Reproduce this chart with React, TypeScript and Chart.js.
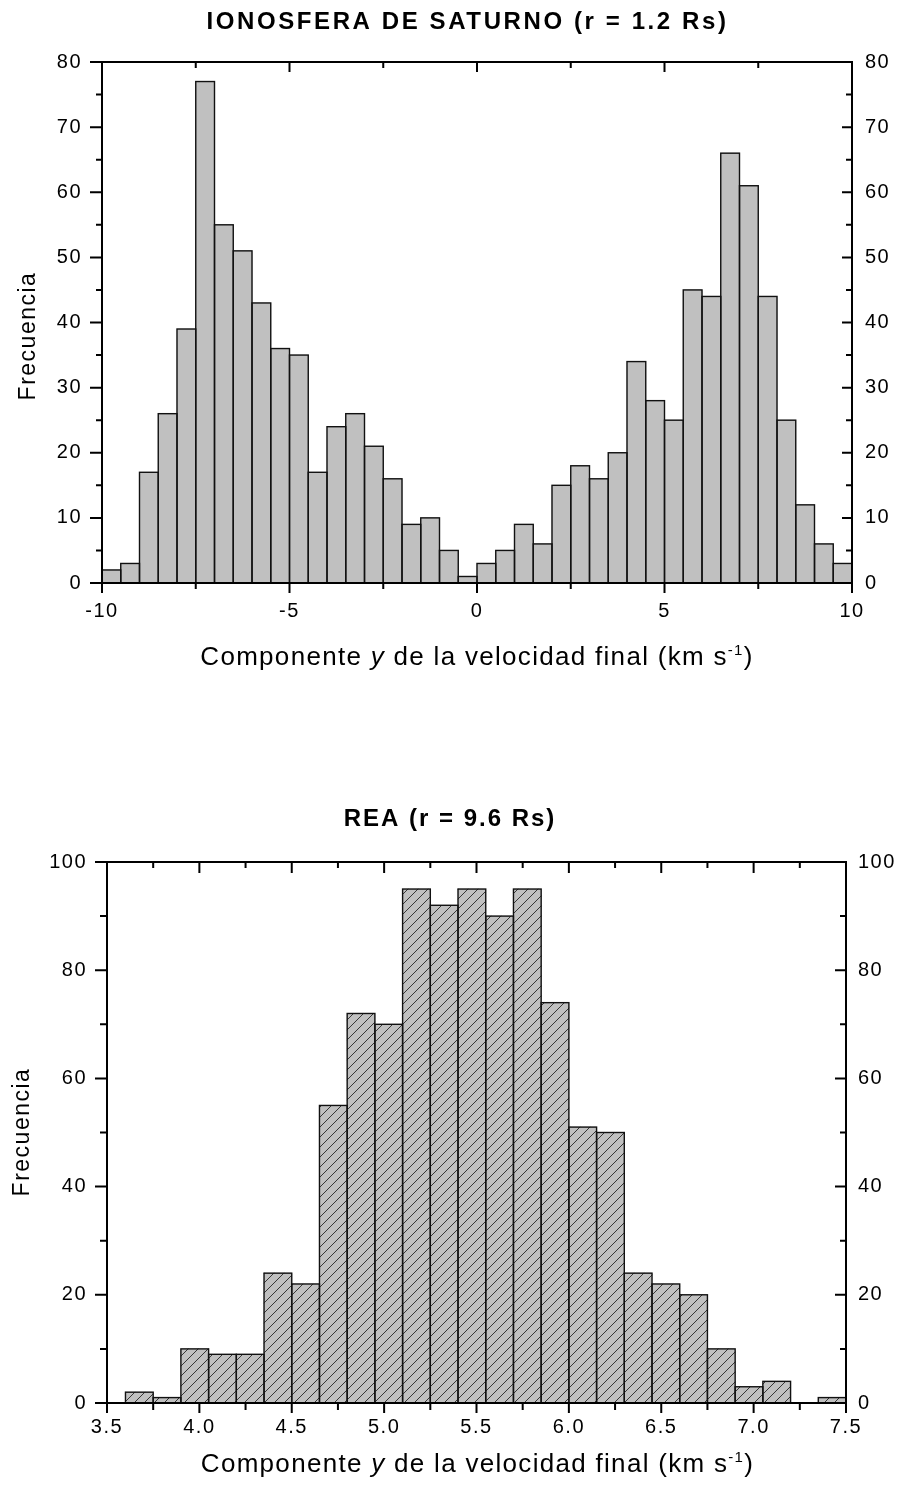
import { useEffect, useRef } from 'react';
import { Chart, registerables } from 'chart.js';

Chart.register(...registerables);

const FONT = "'Liberation Sans', Arial, Helvetica, sans-serif";
const W = 899;
const H = 747;

// ---------- Top chart (Ionosfera) ----------
const topTitle = 'IONOSFERA DE SATURNO (r = 1.2 Rs)';
const topBinCenters = [
  -9.75, -9.25, -8.75, -8.25, -7.75, -7.25, -6.75, -6.25, -5.75, -5.25,
  -4.75, -4.25, -3.75, -3.25, -2.75, -2.25, -1.75, -1.25, -0.75, -0.25,
  0.25, 0.75, 1.25, 1.75, 2.25, 2.75, 3.25, 3.75, 4.25, 4.75,
  5.25, 5.75, 6.25, 6.75, 7.25, 7.75, 8.25, 8.75, 9.25, 9.75,
];
const topCounts = [
  2, 3, 17, 26, 39, 77, 55, 51, 43, 36,
  35, 17, 24, 26, 21, 16, 9, 10, 5, 1,
  3, 5, 9, 6, 15, 18, 16, 20, 34, 28,
  25, 45, 44, 66, 61, 44, 25, 12, 6, 3,
];
const topXMajor = [-10, -5, 0, 5, 10];
const topXMinor = [-7.5, -2.5, 2.5, 7.5];
const topYMajor = [0, 10, 20, 30, 40, 50, 60, 70, 80];
const topYMinor = [5, 15, 25, 35, 45, 55, 65, 75];

// ---------- Bottom chart (REA) ----------
const bottomTitle = 'REA (r = 9.6 Rs)';
const bottomBinCenters = [
  3.675, 3.825, 3.975, 4.125, 4.275, 4.425, 4.575, 4.725, 4.875, 5.025,
  5.175, 5.325, 5.475, 5.625, 5.775, 5.925, 6.075, 6.225, 6.375, 6.525,
  6.675, 6.825, 6.975, 7.125, 7.275, 7.425,
];
const bottomCounts = [
  2, 1, 10, 9, 9, 24, 22, 55, 72, 70,
  95, 92, 95, 90, 95, 74, 51, 50, 24, 22,
  20, 10, 3, 4, 0, 1,
];
const bottomXMajor = [3.5, 4.0, 4.5, 5.0, 5.5, 6.0, 6.5, 7.0, 7.5];
const bottomXMinor = [3.75, 4.25, 4.75, 5.25, 5.75, 6.25, 6.75, 7.25];
const bottomYMajor = [0, 20, 40, 60, 80, 100];
const bottomYMinor = [10, 30, 50, 70, 90];

// ---------- Shared texts ----------
const yTitle = 'Frecuencia';
const xTitleParts = [
  { text: 'Componente ', style: 'normal', sup: false },
  { text: 'y', style: 'italic', sup: false },
  { text: ' de la velocidad final (km s', style: 'normal', sup: false },
  { text: '-1', style: 'normal', sup: true },
  { text: ')', style: 'normal', sup: false },
];

type Spec = {
  centers: number[];
  counts: number[];
  xMin: number; xMax: number; xStep: number; xFmt: (v: number) => string;
  yMax: number; yStep: number;
  xMajor: number[]; xMinor: number[]; yMajor: number[]; yMinor: number[];
  area: { left: number; right: number; top: number; bottom: number };
  hatched: boolean;
  title: string; titleX: number; titleBase: number; titleSpacing: string;
  xTitleX: number; xTitleBase: number;
  yTitleX: number; yTitleY: number;
  xPad: number; yPadL: number; yPadR: number;
  len: { bMaj: number; bMin: number; tMaj: number; tMin: number; lMaj: number; lMin: number; rMaj: number; rMin: number };
};

const topSpec: Spec = {
  centers: topBinCenters, counts: topCounts,
  xMin: -10, xMax: 10, xStep: 5, xFmt: (v) => String(v),
  yMax: 80, yStep: 10,
  xMajor: topXMajor, xMinor: topXMinor, yMajor: topYMajor, yMinor: topYMinor,
  area: { left: 102, right: 852, top: 62, bottom: 583 },
  hatched: false,
  title: topTitle, titleX: 467.5, titleBase: 29, titleSpacing: '2.6px',
  xTitleX: 477, xTitleBase: 665,
  yTitleX: 35, yTitleY: 336,
  xPad: 16, yPadL: 20, yPadR: 13,
  len: { bMaj: 10, bMin: 6, tMaj: 10, tMin: 6, lMaj: 12, lMin: 6, rMaj: 10, rMin: 6 },
};

const bottomSpec: Spec = {
  centers: bottomBinCenters, counts: bottomCounts,
  xMin: 3.5, xMax: 7.5, xStep: 0.5, xFmt: (v) => Number(v).toFixed(1),
  yMax: 100, yStep: 20,
  xMajor: bottomXMajor, xMinor: bottomXMinor, yMajor: bottomYMajor, yMinor: bottomYMinor,
  area: { left: 107, right: 846, top: 115, bottom: 656 },
  hatched: true,
  title: bottomTitle, titleX: 450, titleBase: 78.5, titleSpacing: '2px',
  xTitleX: 477.5, xTitleBase: 725,
  yTitleX: 29, yTitleY: 385,
  xPad: 12, yPadL: 20, yPadR: 12,
  len: { bMaj: 10, bMin: 7, tMaj: 11, tMin: 6, lMaj: 12, lMin: 7, rMaj: 11, rMin: 6 },
};

function makeHatch(ctx: CanvasRenderingContext2D) {
  const s = 10;
  const pc = document.createElement('canvas');
  pc.width = s;
  pc.height = s;
  const g = pc.getContext('2d') as CanvasRenderingContext2D;
  g.fillStyle = '#c0c0c0';
  g.fillRect(0, 0, s, s);
  g.strokeStyle = '#262626';
  g.lineWidth = 0.9;
  g.beginPath();
  g.moveTo(-1, s + 1);
  g.lineTo(s + 1, -1);
  g.moveTo(-2, 2);
  g.lineTo(2, -2);
  g.moveTo(s - 2, s + 2);
  g.lineTo(s + 2, s - 2);
  g.stroke();
  return ctx.createPattern(pc, 'repeat') as CanvasPattern;
}

function drawXTitle(ctx: CanvasRenderingContext2D, cx: number, base: number) {
  const size = 26;
  const supSize = 15;
  ctx.save();
  ctx.fillStyle = '#000';
  ctx.textAlign = 'left';
  ctx.textBaseline = 'alphabetic';
  (ctx as any).letterSpacing = '1.3px';
  const fontOf = (p: { style: string; sup: boolean }) =>
    `${p.style === 'italic' ? 'italic ' : ''}${p.sup ? supSize : size}px ${FONT}`;
  const widths = xTitleParts.map((p) => {
    ctx.font = fontOf(p);
    return ctx.measureText(p.text).width;
  });
  const total = widths.reduce((a, b) => a + b, 0);
  let x = cx - total / 2;
  xTitleParts.forEach((p, i) => {
    ctx.font = fontOf(p);
    ctx.fillText(p.text, x, base + (p.sup ? -10 : 0));
    x += widths[i];
  });
  ctx.restore();
}

function makePlugin(spec: Spec) {
  return {
    id: 'histDecor',
    beforeDraw(chart: any) {
      (chart.ctx as any).letterSpacing = '1.5px';
    },
    afterDatasetsDraw(chart: any) {
      const ctx: CanvasRenderingContext2D = chart.ctx;
      const meta = chart.getDatasetMeta(0);
      ctx.save();
      ctx.strokeStyle = '#111';
      ctx.lineWidth = 1.4;
      meta.data.forEach((el: any, i: number) => {
        if (!spec.counts[i]) return;
        const p = el.getProps(['x', 'y', 'base', 'width'], true);
        const l = p.x - p.width / 2;
        ctx.strokeRect(l, p.y, p.width, p.base - p.y);
      });
      ctx.restore();
    },
    afterDraw(chart: any) {
      const ctx: CanvasRenderingContext2D = chart.ctx;
      const { left, right, top, bottom } = chart.chartArea;
      const xs = chart.scales.x;
      const ys = chart.scales.y;
      const L = spec.len;
      ctx.save();
      ctx.strokeStyle = '#000';
      ctx.lineWidth = 2;
      ctx.lineCap = 'butt';
      ctx.beginPath();
      const vtick = (vals: number[], lb: number, lt: number) => {
        vals.forEach((v) => {
          const px = xs.getPixelForValue(v);
          ctx.moveTo(px, bottom);
          ctx.lineTo(px, bottom + lb);
          ctx.moveTo(px, top);
          ctx.lineTo(px, top + lt);
        });
      };
      const htick = (vals: number[], ll: number, lr: number) => {
        vals.forEach((v) => {
          const py = ys.getPixelForValue(v);
          ctx.moveTo(left - ll, py);
          ctx.lineTo(left, py);
          ctx.moveTo(right - lr, py);
          ctx.lineTo(right, py);
        });
      };
      vtick(spec.xMajor, L.bMaj, L.tMaj);
      vtick(spec.xMinor, L.bMin, L.tMin);
      htick(spec.yMajor, L.lMaj, L.rMaj);
      htick(spec.yMinor, L.lMin, L.rMin);
      ctx.stroke();
      ctx.strokeRect(left, top, right - left, bottom - top);
      ctx.restore();

      // Chart title
      ctx.save();
      ctx.fillStyle = '#000';
      (ctx as any).letterSpacing = spec.titleSpacing;
      ctx.font = `bold 24px ${FONT}`;
      ctx.textAlign = 'center';
      ctx.textBaseline = 'alphabetic';
      ctx.fillText(spec.title, spec.titleX, spec.titleBase);
      ctx.restore();

      // Y title
      ctx.save();
      ctx.fillStyle = '#000';
      (ctx as any).letterSpacing = '1.5px';
      ctx.font = `23px ${FONT}`;
      ctx.translate(spec.yTitleX, spec.yTitleY);
      ctx.rotate(-Math.PI / 2);
      ctx.textAlign = 'center';
      ctx.textBaseline = 'alphabetic';
      ctx.fillText(yTitle, 0, 0);
      ctx.restore();

      drawXTitle(ctx, spec.xTitleX, spec.xTitleBase);
    },
  };
}

function Hist({ spec, top }: { spec: Spec; top: number }) {
  const ref = useRef<HTMLCanvasElement | null>(null);
  useEffect(() => {
    const canvas = ref.current;
    if (!canvas) return;
    const ctx = canvas.getContext('2d') as CanvasRenderingContext2D;
    const fill = spec.hatched ? makeHatch(ctx) : '#c0c0c0';
    const tickFont = { family: FONT, size: 20 };
    const chart = new Chart(canvas, {
      type: 'bar',
      data: {
        datasets: [
          {
            data: spec.centers.map((x, i) => ({ x, y: spec.counts[i] })),
            backgroundColor: fill as any,
            borderWidth: 0,
            barPercentage: 1,
            categoryPercentage: 1,
            yAxisID: 'y',
          },
        ],
      },
      options: {
        animation: false,
        responsive: false,
        devicePixelRatio: 1,
        events: [],
        layout: { padding: { top: spec.area.top, left: 0, right: 0, bottom: 0 } },
        plugins: {
          legend: { display: false },
          tooltip: { enabled: false },
          title: { display: false },
        },
        scales: {
          x: {
            type: 'linear',
            position: 'bottom',
            min: spec.xMin,
            max: spec.xMax,
            offset: false,
            grid: { display: false, drawTicks: false, offset: false },
            border: { display: false },
            ticks: {
              stepSize: spec.xStep,
              autoSkip: false,
              maxRotation: 0,
              minRotation: 0,
              padding: spec.xPad,
              color: '#000',
              font: tickFont,
              callback: (v: any) => spec.xFmt(Number(v)),
            },
            afterFit: (s: any) => {
              s.height = H - spec.area.bottom;
            },
          },
          y: {
            type: 'linear',
            position: 'left',
            min: 0,
            max: spec.yMax,
            grid: { display: false, drawTicks: false },
            border: { display: false },
            ticks: {
              stepSize: spec.yStep,
              padding: spec.yPadL,
              color: '#000',
              font: tickFont,
              callback: (v: any) => String(v),
            },
            afterFit: (s: any) => {
              s.width = spec.area.left;
            },
          },
          y2: {
            type: 'linear',
            position: 'right',
            min: 0,
            max: spec.yMax,
            grid: { display: false, drawTicks: false },
            border: { display: false },
            ticks: {
              stepSize: spec.yStep,
              padding: spec.yPadR,
              color: '#000',
              font: tickFont,
              callback: (v: any) => String(v),
            },
            afterFit: (s: any) => {
              s.width = W - spec.area.right;
            },
          },
        },
      } as any,
      plugins: [makePlugin(spec)],
    });
    return () => chart.destroy();
  }, [spec]);
  return (
    <canvas
      ref={ref}
      width={W}
      height={H}
      style={{ position: 'absolute', left: 0, top, width: W, height: H, display: 'block' }}
    />
  );
}

export default function App() {
  return (
    <div
      style={{
        position: 'absolute',
        left: 0,
        top: 0,
        width: W,
        height: 1494,
        background: '#ffffff',
        overflow: 'hidden',
      }}
    >
      <Hist spec={topSpec} top={0} />
      <Hist spec={bottomSpec} top={747} />
    </div>
  );
}
